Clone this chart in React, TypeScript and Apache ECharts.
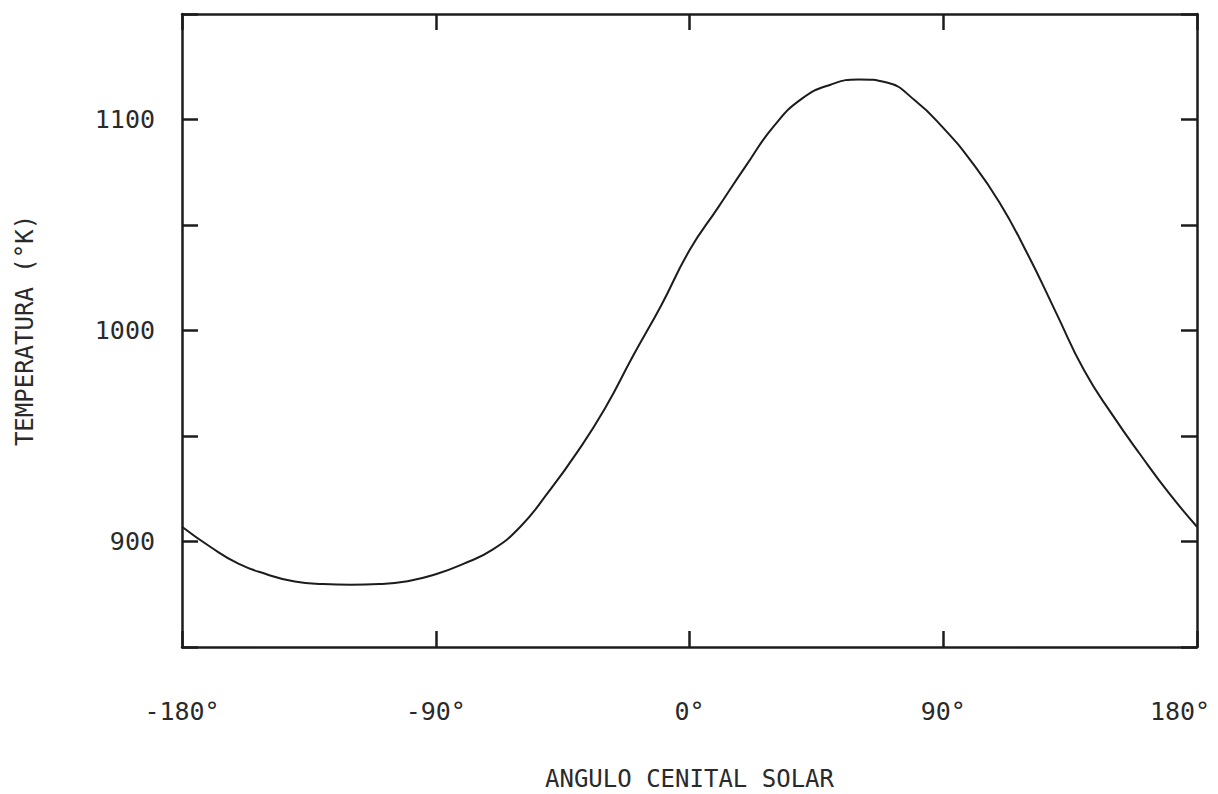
import React, { useEffect, useRef } from "react";
import * as echarts from "echarts";

// Solar zenith angle (degrees) and exospheric temperature (K)
const angles = [
  -180, -170, -160, -150, -140, -130, -120, -110, -100, -90, -80, -70, -60, -50, -40, -30, -20, -10,
  0, 10, 20, 30, 40, 50, 60, 70, 80, 90, 100, 110, 120, 130, 140, 150, 160, 170, 180,
];
const temperatures = [
  907, 897.5, 889.5, 884.5, 881, 879.8, 879.5, 879.8, 881.2, 884.5, 889.5, 896, 907, 923.5, 942, 963, 988, 1012,
  1038, 1058, 1078, 1097, 1110, 1116.5, 1119, 1117.5, 1109, 1096, 1080, 1060.5, 1036, 1008.5, 981, 960, 941, 923, 907,
];

const xTickValues = [-180, -90, 0, 90, 180];
const yTickLabels = [900, 1000, 1100];

const INK = "#1c1c1c";
const TEXT = "#2a2a2a";
const FONT = "DejaVu Sans Mono";

export default function App() {
  const ref = useRef<HTMLDivElement>(null);

  useEffect(() => {
    if (!ref.current) return;
    const chart = echarts.init(ref.current, undefined, { renderer: "svg" });

    const frameAxis = {
      axisLine: { show: true, onZero: false, lineStyle: { color: INK, width: 2.5 } },
      axisTick: { show: true, inside: true, length: 16, lineStyle: { color: INK, width: 2.5 } },
      splitLine: { show: false },
    };

    const lastX = xTickValues[xTickValues.length - 1];

    chart.setOption({
      animation: false,
      backgroundColor: "#ffffff",
      grid: { left: 182, right: 21, top: 14, bottom: 147, outerBoundsMode: "none" },
      xAxis: [
        {
          type: "value",
          min: -180,
          max: 180,
          interval: 90,
          position: "bottom",
          ...frameAxis,
          axisLabel: {
            margin: 52,
            color: TEXT,
            fontFamily: FONT,
            fontSize: 25,
            formatter: (v: number) => {
              if (!xTickValues.includes(v)) return "";
              // the last label sits a little left of its tick so it stays on the page
              return v === lastX ? `{edge|${v}°}` : `${v}°`;
            },
            rich: {
              edge: { color: TEXT, fontFamily: FONT, fontSize: 25, padding: [0, 34, 0, 0] },
            },
          },
          name: "ANGULO CENITAL SOLAR",
          nameLocation: "middle",
          nameGap: 120,
          nameTextStyle: { color: TEXT, fontFamily: FONT, fontSize: 24 },
        },
        {
          type: "value",
          min: -180,
          max: 180,
          interval: 90,
          position: "top",
          ...frameAxis,
          axisLabel: { show: false },
        },
      ],
      yAxis: [
        {
          type: "value",
          min: 850,
          max: 1150,
          interval: 50,
          position: "left",
          ...frameAxis,
          axisLabel: {
            margin: 27,
            color: TEXT,
            fontFamily: FONT,
            fontSize: 25,
            formatter: (v: number) => (yTickLabels.includes(v) ? String(v) : ""),
          },
          name: "TEMPERATURA (°K)",
          nameLocation: "middle",
          nameGap: 145,
          nameRotate: 90,
          nameTextStyle: { color: TEXT, fontFamily: FONT, fontSize: 24 },
        },
        {
          type: "value",
          min: 850,
          max: 1150,
          interval: 50,
          position: "right",
          ...frameAxis,
          axisLabel: { show: false },
        },
      ],
      series: [
        {
          type: "line",
          data: angles.map((a, i) => [a, temperatures[i]]),
          smooth: 0.5,
          showSymbol: false,
          lineStyle: { color: INK, width: 2 },
        },
      ],
    });

    return () => chart.dispose();
  }, []);

  return (
    <div
      ref={ref}
      style={{ position: "fixed", left: 0, top: 0, width: 1218, height: 794, background: "#fff" }}
    />
  );
}
